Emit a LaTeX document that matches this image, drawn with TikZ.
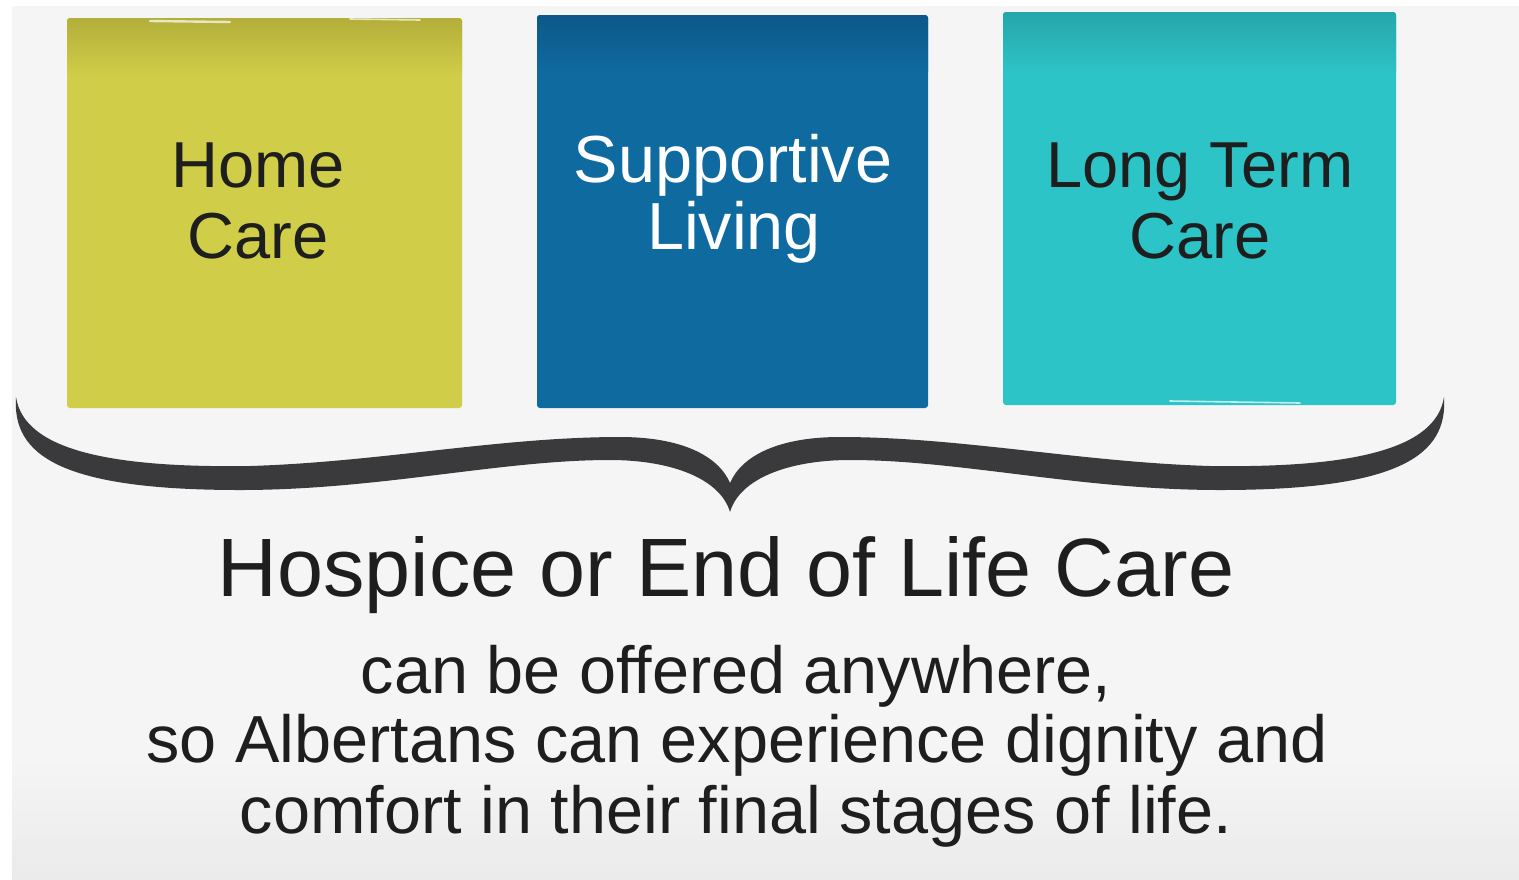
\documentclass[tikz,border=0pt]{standalone}
\usepackage{fontspec}
\setmainfont{Liberation Sans}
\definecolor{homeC}{RGB}{208,205,72}
\definecolor{homeT}{RGB}{178,174,58}
\definecolor{supC}{RGB}{15,106,160}
\definecolor{supT}{RGB}{12,88,136}
\definecolor{ltcC}{RGB}{45,196,200}
\definecolor{ltcT}{RGB}{38,166,170}
\definecolor{braceC}{RGB}{58,58,60}
\definecolor{inkC}{RGB}{30,30,30}
\definecolor{bgTop}{RGB}{210,210,210}
\definecolor{bgMid}{RGB}{245,245,245}
\definecolor{bgBot}{RGB}{198,198,198}
\pgfdeclareverticalshading{bgshade}{100bp}{color(0bp)=(bgBot); color(32bp)=(bgMid); color(88bp)=(bgMid); color(100bp)=(bgTop)}
\tikzset{
  panel/.style={rectangle, rounded corners=1.5pt, inner sep=0pt, draw=none},
  boxtext/.style={anchor=base, inner sep=0pt, font=\fontsize{32.5}{34}\selectfont},
  headtext/.style={anchor=base, inner sep=0pt, text=inkC, font=\fontsize{41.4}{44}\selectfont},
  bodytext/.style={anchor=base, inner sep=0pt, text=inkC, font=\fontsize{33.3}{35}\selectfont},
  streak/.style={white, line cap=round, opacity=0.7},
}
\begin{document}
\begin{tikzpicture}[x=0.5pt,y=-0.5pt]
\useasboundingbox (0,0) rectangle (1519,879);
\fill[white] (0,0) rectangle (1519,879);
\shade[shading=bgshade] (12,6) rectangle (1519,879);

% boxes
\node[panel, fill=homeC, minimum width=197.5pt, minimum height=195pt] (home) at (264.5,213) {};
\shade[top color=homeT, bottom color=homeC, rounded corners=1.5pt] (67,18) rectangle (462,75);
\node[panel, fill=supC, minimum width=195.5pt, minimum height=196.5pt] (sup) at (732.5,211.5) {};
\shade[top color=supT, bottom color=supC, rounded corners=1.5pt] (537,15) rectangle (928,75);
\node[panel, fill=ltcC, minimum width=196.5pt, minimum height=196.5pt] (ltc) at (1199.5,208.5) {};
\shade[top color=ltcT, bottom color=ltcC, rounded corners=1.5pt] (1003,12) rectangle (1396,75);

% brush streaks
\draw[streak, line width=1.2pt] (150,21) -- (230,22);
\draw[streak, line width=0.8pt] (350,19) -- (420,20);
\draw[streak, line width=0.8pt] (1170,401) -- (1300,403);

% box texts
\node[boxtext, text=inkC] (homeA) at (258,187) {Home};
\node[boxtext, text=inkC] (homeB) at (258,258) {Care};
\node[boxtext, text=white, font=\fontsize{33.3}{34}\selectfont] (supA) at (733,182) {Supportive};
\node[boxtext, text=white, font=\fontsize{33.3}{34}\selectfont] (supB) at (734,249) {Living};
\node[boxtext, text=inkC] (ltcA) at (1200,187) {Long Term};
\node[boxtext, text=inkC] (ltcB) at (1200,258) {Care};

% brace
\coordinate (tipL) at (16,397);
\coordinate (tipR) at (1444,397);
\coordinate (cusp) at (730,512);
\fill[braceC]
  (tipL) .. controls (24,450) and (110,468) .. (250,466)
  .. controls (380,462) and (500,437) .. (620,437)
  .. controls (680,437) and (718,455) .. (730,483)
  .. controls (742,455) and (780,437) .. (840,437)
  .. controls (960,437) and (1080,462) .. (1210,466)
  .. controls (1350,468) and (1436,450) .. (tipR)
  .. controls (1448,455) and (1400,490) .. (1220,490)
  .. controls (1080,490) and (960,460) .. (850,460)
  .. controls (790,460) and (740,478) .. (cusp)
  .. controls (720,478) and (670,460) .. (610,460)
  .. controls (500,460) and (380,490) .. (240,490)
  .. controls (60,490) and (12,455) .. (tipL) -- cycle;

% bottom texts
\node[headtext] (head) at (726,596) {Hospice or End of Life Care};
\node[bodytext] (l1) at (736,693) {can be offered anywhere,};
\node[bodytext] (l2) at (737,762) {so Albertans can experience dignity and};
\node[bodytext] (l3) at (736,833) {comfort in their final stages of life.};
\end{tikzpicture}
\end{document}
